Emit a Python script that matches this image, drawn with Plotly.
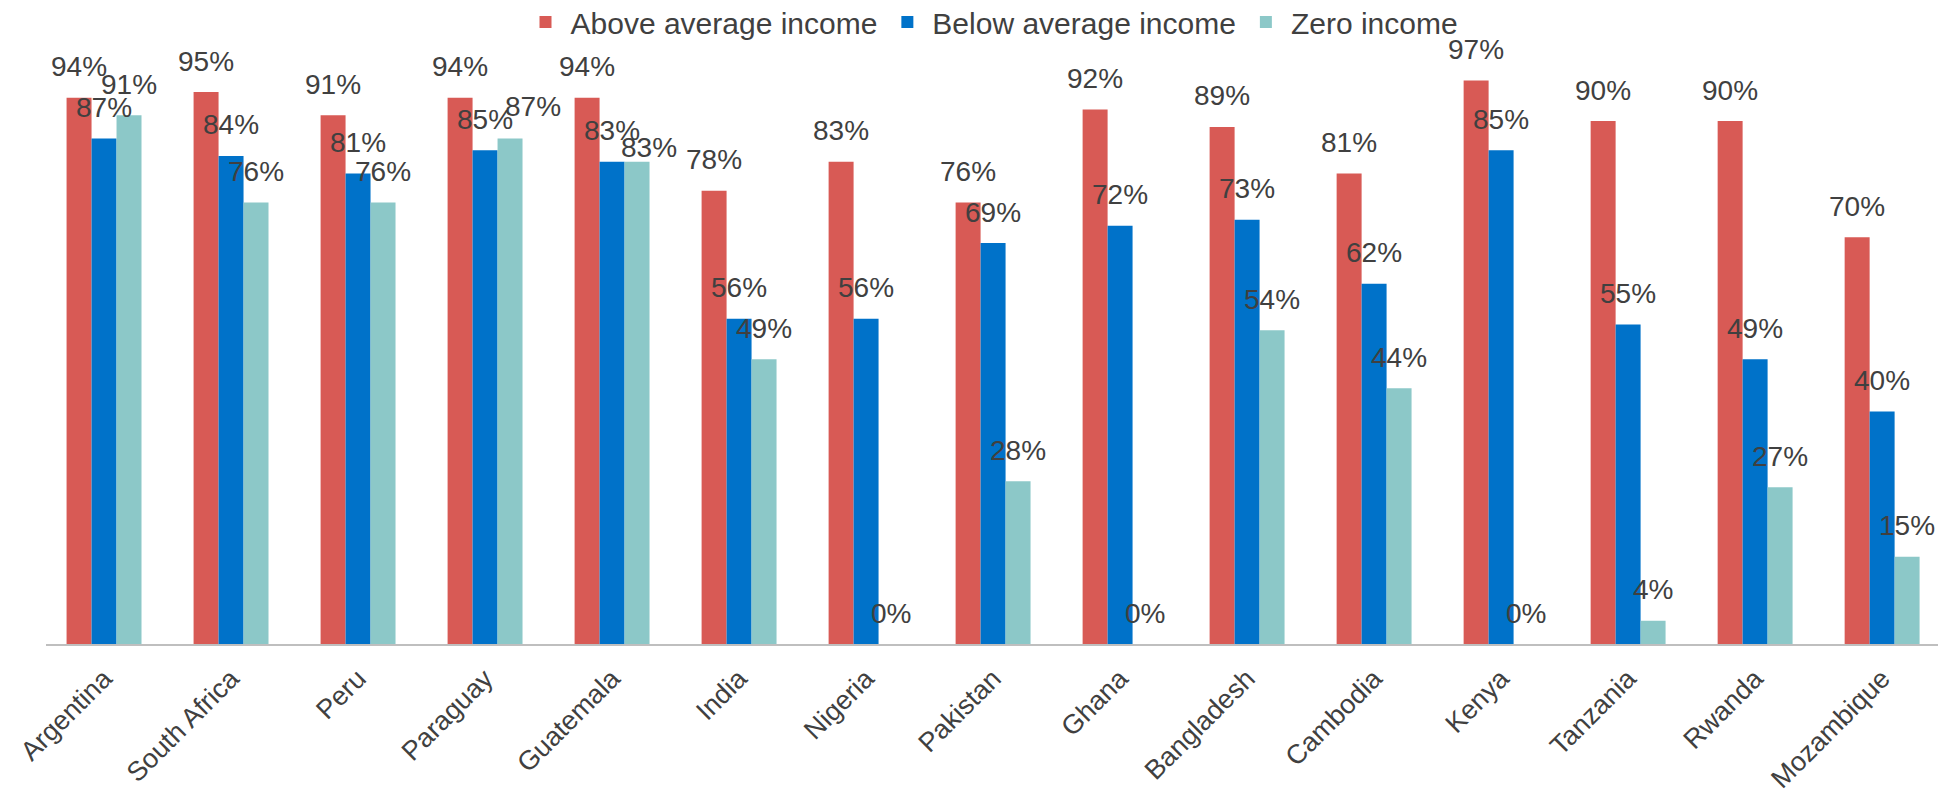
import plotly.graph_objects as go

countries = ["Argentina", "South Africa", "Peru", "Paraguay", "Guatemala", "India",
             "Nigeria", "Pakistan", "Ghana", "Bangladesh", "Cambodia", "Kenya",
             "Tanzania", "Rwanda", "Mozambique"]
above_avg = [94, 95, 91, 94, 94, 78, 83, 76, 92, 89, 81, 97, 90, 90, 70]
below_avg = [87, 84, 81, 85, 83, 56, 56, 69, 72, 73, 62, 85, 55, 49, 40]
zero_inc = [91, 76, 76, 87, 83, 49, 0, 28, 0, 54, 44, 0, 4, 27, 15]

series_names = ["Above average income", "Below average income", "Zero income"]
series_colors = ["#D85A55", "#0072C9", "#8CC8C8"]
series_values = [above_avg, below_avg, zero_inc]

FONT = "Liberation Sans, Arial, sans-serif"
TEXT_COLOR = "#404040"
BARGAP = 0.41
bar_w = (1 - BARGAP) / 3

# labels dragged aside so they clear their neighbours: (country, series) -> (dx, dy) in px
LABEL_NUDGE = {
    ("Paraguay", 2): (23, 32),
    ("Guatemala", 2): (12, 14),
}
DEFAULT_LIFT = 31

xs = list(range(len(countries)))

fig = go.Figure()
for name, color, vals in zip(series_names, series_colors, series_values):
    fig.add_trace(go.Bar(
        x=xs, y=vals, name=name,
        marker=dict(color=color, line=dict(width=0)),
    ))

# value labels above each bar
annotations = []
for k, vals in enumerate(series_values):
    for i, v in enumerate(vals):
        dx, dy = LABEL_NUDGE.get((countries[i], k), (0, DEFAULT_LIFT))
        annotations.append(dict(
            x=i + (k - 1) * bar_w, y=v, xref="x", yref="y",
            text=f"{v}%", showarrow=False, xshift=dx, yshift=dy,
            xanchor="center", yanchor="middle",
            font=dict(family=FONT, size=28, color=TEXT_COLOR),
        ))

fig.update_layout(
    width=1957, height=801,
    margin=dict(l=46, r=19, t=63, b=157, autoexpand=False),
    paper_bgcolor="white", plot_bgcolor="white",
    barmode="group", bargap=BARGAP, bargroupgap=0,
    font=dict(family=FONT, size=28, color=TEXT_COLOR),
    showlegend=True,
    legend=dict(
        orientation="h", x=0.5, xanchor="center", y=1.0706, yanchor="middle",
        font=dict(family=FONT, size=30, color=TEXT_COLOR),
        itemwidth=40, tracegroupgap=0,
    ),
    annotations=annotations,
)
fig.update_xaxes(
    tickmode="array", tickvals=xs, ticktext=countries,
    tickangle=-45, range=[-0.457, 14.44],
    showline=True, linecolor="#BFBFBF", linewidth=2,
    showgrid=False, zeroline=False, ticks="", ticklabelstandoff=6,
    tickfont=dict(family=FONT, size=27, color=TEXT_COLOR),
)
fig.update_yaxes(
    range=[0, 100], visible=False, showgrid=False, zeroline=False,
)

fig.write_html("out.html")
